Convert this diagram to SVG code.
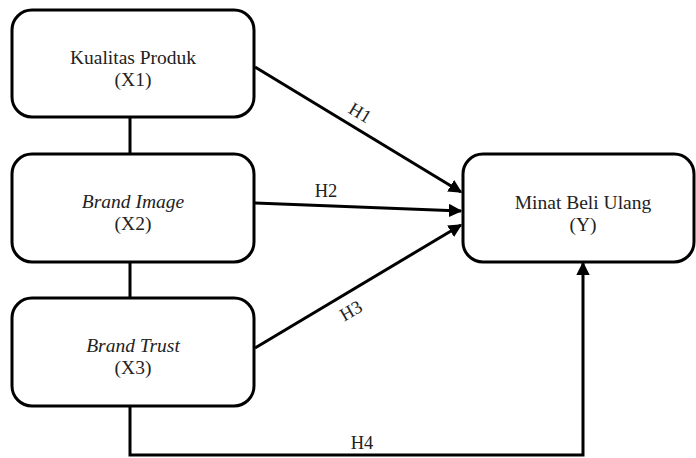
<svg xmlns="http://www.w3.org/2000/svg" width="696" height="458" viewBox="0 0 696 458">
<style>
.box{fill:#fff;stroke:#000;stroke-width:3}
.t{font-family:"Liberation Serif","Times New Roman","DejaVu Serif",serif;font-size:19.5px;fill:#222;text-anchor:middle}
.i{font-style:italic}
.c{fill:none;stroke:#000;stroke-width:3}
.l{font-family:"Liberation Serif","Times New Roman","DejaVu Serif",serif;font-size:18.5px;fill:#222;text-anchor:middle}
</style>
<defs>
<marker id="ah" viewBox="0 0 10 10" refX="9" refY="5" markerWidth="4.5" markerHeight="4.5" orient="auto" markerUnits="strokeWidth">
<path d="M0,0 L10,5 L0,10 z" fill="#000"/>
</marker>
</defs>
<g id="connectors">
<line class="c" x1="130" y1="117" x2="130" y2="153"/>
<line class="c" x1="130" y1="262" x2="130" y2="297"/>
<line class="c" x1="255" y1="67" x2="461" y2="192" marker-end="url(#ah)"/>
<line class="c" x1="255" y1="203" x2="461" y2="211" marker-end="url(#ah)"/>
<line class="c" x1="255" y1="348" x2="461" y2="225" marker-end="url(#ah)"/>
<polyline class="c" points="130,406 130,455 583,455 583,263" marker-end="url(#ah)"/>
<text class="l" transform="translate(357,118) rotate(31)">H1</text>
<text class="l" x="326" y="197">H2</text>
<text class="l" transform="translate(354,316) rotate(-30)">H3</text>
<text class="l" x="362" y="449">H4</text>
</g>
<g id="x1">
<rect class="box" x="12" y="10" width="242" height="107" rx="20"/>
<text class="t" x="133" y="64">Kualitas Produk</text>
<text class="t" x="133" y="86">(X1)</text>
</g>
<g id="x2">
<rect class="box" x="12" y="154" width="242" height="108" rx="20"/>
<text class="t i" x="133" y="208">Brand Image</text>
<text class="t" x="133" y="230">(X2)</text>
</g>
<g id="x3">
<rect class="box" x="12" y="298" width="242" height="108" rx="20"/>
<text class="t i" x="133" y="352">Brand Trust</text>
<text class="t" x="133" y="374">(X3)</text>
</g>
<g id="y">
<rect class="box" x="463" y="154" width="231" height="108" rx="20"/>
<text class="t" x="583" y="209">Minat Beli Ulang</text>
<text class="t" x="583" y="231">(Y)</text>
</g>
</svg>
